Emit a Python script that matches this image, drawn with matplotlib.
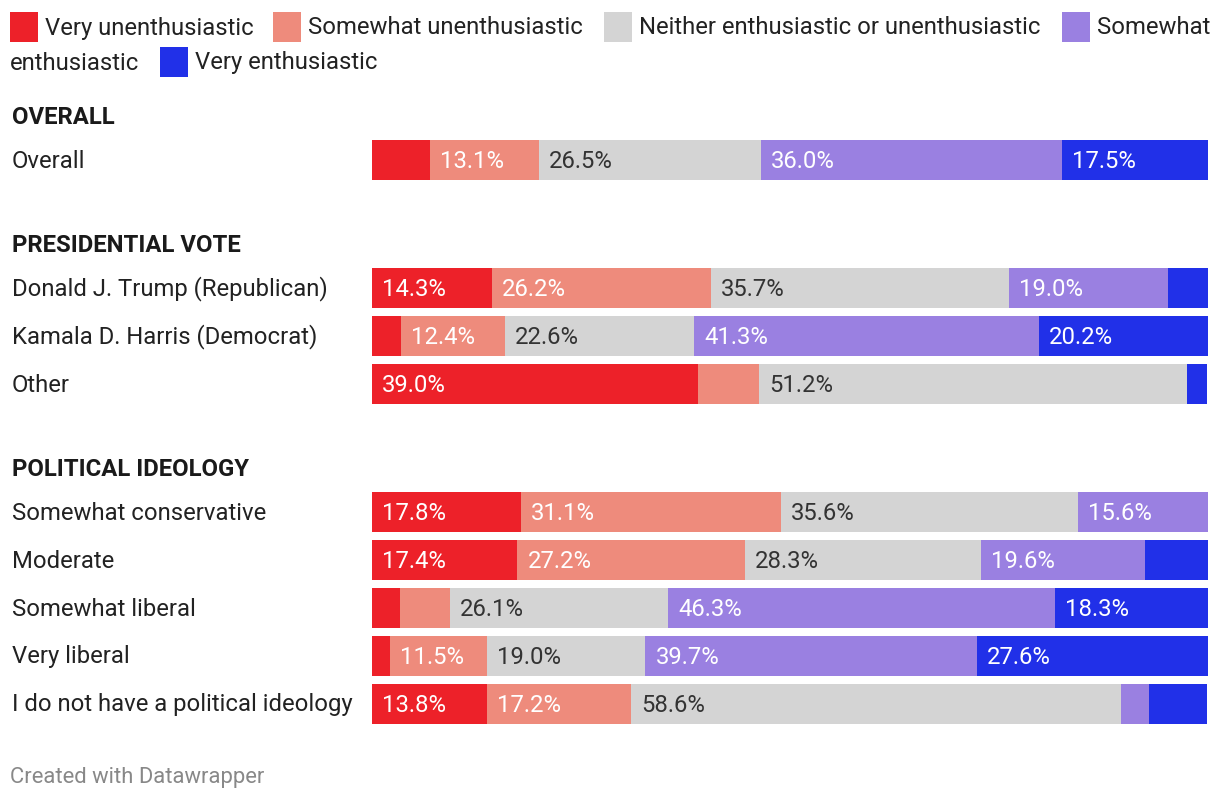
import matplotlib
matplotlib.use('Agg')
import matplotlib.pyplot as plt
from matplotlib.patches import Rectangle

plt.rcParams['font.family'] = ['Roboto', 'DejaVu Sans']

W, H = 1220, 802

responses = ['Very unenthusiastic', 'Somewhat unenthusiastic',
             'Neither enthusiastic or unenthusiastic', 'Somewhat enthusiastic',
             'Very enthusiastic']
colors = ['#ED2129', '#EE8B7C', '#D4D4D4', '#9A80E1', '#2130E8']
text_colors = ['white', 'white', '#333333', 'white', 'white']

groups = ['OVERALL', 'PRESIDENTIAL VOTE', 'POLITICAL IDEOLOGY']
group_rows = [
    ['Overall'],
    ['Donald J. Trump (Republican)', 'Kamala D. Harris (Democrat)', 'Other'],
    ['Somewhat conservative', 'Moderate', 'Somewhat liberal', 'Very liberal',
     'I do not have a political ideology'],
]

very_unenth = [6.9, 14.3, 3.5, 39.0, 17.8, 17.4, 3.3, 2.2, 13.8]
somewhat_unenth = [13.1, 26.2, 12.4, 7.3, 31.1, 27.2, 6.0, 11.5, 17.2]
neither = [26.5, 35.7, 22.6, 51.2, 35.6, 28.3, 26.1, 19.0, 58.6]
somewhat_enth = [36.0, 19.0, 41.3, 0.0, 15.6, 19.6, 46.3, 39.7, 3.4]
very_enth = [17.5, 4.8, 20.2, 2.4, 0.0, 7.5, 18.3, 27.6, 6.9]
series = [very_unenth, somewhat_unenth, neither, somewhat_enth, very_enth]

fig = plt.figure(figsize=(W / 100, H / 100), dpi=100)
fig.patch.set_facecolor('white')

# bar area: x 372..1208 px, y in pixel units (top = 0)
ax = fig.add_axes([372 / W, 0, 836 / W, 1])
ax.set_xlim(0, 100)
ax.set_ylim(H, 0)
ax.axis('off')


def fy(y):
    return 1 - y / H


# row layout
row_y = []
head_y = []
y = 116
for rows in group_rows:
    head_y.append(y)
    y += 44
    for _ in rows:
        row_y.append(y)
        y += 48
    y += 36

fs = 17.2
for g, hy in zip(groups, head_y):
    fig.text(12 / W, fy(hy + 1), g, fontsize=fs, fontweight='bold', color='#1a1a1a',
             ha='left', va='center')

labels = [r for rows in group_rows for r in rows]
for i, (lab, ry) in enumerate(zip(labels, row_y)):
    fig.text(12 / W, fy(ry + 1), lab, fontsize=fs, color='#222222', ha='left', va='center')
    left = 0.0
    for k, vals in enumerate(series):
        v = vals[i]
        if v > 0:
            ax.barh(ry, v, left=left, height=40, color=colors[k], linewidth=0)
            if v >= 10:
                ax.text(left + 1.2, ry + 1, f'{v:.1f}%', fontsize=fs, color=text_colors[k],
                        ha='left', va='center')
        left += v

# legend
legend_items = [
    (10, 27, 45, responses[0]),
    (273, 27, 308, responses[1]),
    (604, 27, 639, responses[2]),
    (1062, 27, 1097, 'Somewhat'),
    (160, 62, 195, responses[4]),
]
for k, (sx, sy, tx, txt) in enumerate(legend_items):
    fig.patches.append(Rectangle((sx / W, fy(sy + 15)), 28 / W, 30 / H,
                                 transform=fig.transFigure, color=colors[k], linewidth=0))
    fig.text(tx / W, fy(sy + 1), txt, fontsize=fs, color='#222222', ha='left', va='center')
fig.text(10 / W, fy(63), 'enthusiastic', fontsize=fs, color='#222222', ha='left', va='center')

fig.text(10 / W, fy(777), 'Created with Datawrapper', fontsize=15.8, color='#888888',
         ha='left', va='center')

plt.savefig('out.png', dpi=100)
plt.close()
